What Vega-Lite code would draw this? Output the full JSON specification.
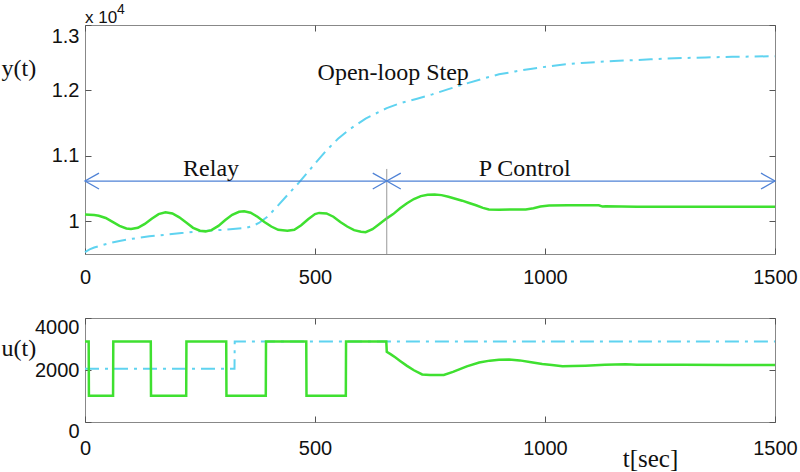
{
  "$schema": "https://vega.github.io/schema/vega-lite/v6.json",
  "padding": {"left": 0, "top": 2, "right": 0, "bottom": 0},
  "background": "white",
  "config": {
    "view": {"stroke": "#888888", "strokeWidth": 1},
    "axis": {
      "domain": false,
      "grid": false,
      "tickColor": "#555555",
      "tickSize": -6,
      "tickWidth": 1,
      "format": "d",
      "labelFont": "Liberation Sans",
      "labelFontSize": 20,
      "labelColor": "#111111",
      "labelOverlap": false,
      "labelFlush": false,
      "titleFont": "Liberation Serif",
      "titleFontSize": 24,
      "titleFontWeight": "normal",
      "titleColor": "#111111"
    }
  },
  "datasets": {
    "yOpen": [
      {"t": 0, "v": 9530}, {"t": 10, "v": 9570}, {"t": 20, "v": 9600}, {"t": 30, "v": 9620},
      {"t": 50, "v": 9660}, {"t": 75, "v": 9700}, {"t": 103, "v": 9733}, {"t": 140, "v": 9770},
      {"t": 175, "v": 9795}, {"t": 210, "v": 9820}, {"t": 248, "v": 9846}, {"t": 300, "v": 9870},
      {"t": 349, "v": 9897}, {"t": 365, "v": 9930}, {"t": 378, "v": 9974}, {"t": 395, "v": 10060},
      {"t": 415, "v": 10205}, {"t": 440, "v": 10400}, {"t": 465, "v": 10590}, {"t": 495, "v": 10840},
      {"t": 523, "v": 11070}, {"t": 550, "v": 11260}, {"t": 574, "v": 11400}, {"t": 610, "v": 11570},
      {"t": 656, "v": 11730}, {"t": 683, "v": 11800}, {"t": 720, "v": 11870}, {"t": 755, "v": 11940},
      {"t": 790, "v": 12020}, {"t": 828, "v": 12103}, {"t": 865, "v": 12180}, {"t": 900, "v": 12246},
      {"t": 935, "v": 12290}, {"t": 972, "v": 12333}, {"t": 1010, "v": 12370}, {"t": 1045, "v": 12400},
      {"t": 1080, "v": 12420}, {"t": 1117, "v": 12436}, {"t": 1150, "v": 12450}, {"t": 1190, "v": 12462},
      {"t": 1230, "v": 12475}, {"t": 1262, "v": 12487}, {"t": 1300, "v": 12495}, {"t": 1350, "v": 12505},
      {"t": 1407, "v": 12513}, {"t": 1450, "v": 12518}, {"t": 1500, "v": 12523}
    ],
    "yClosed": [
      {"t": 0, "v": 10105}, {"t": 10, "v": 10100}, {"t": 20, "v": 10095}, {"t": 30, "v": 10085},
      {"t": 45, "v": 10050}, {"t": 60, "v": 9990}, {"t": 75, "v": 9930}, {"t": 90, "v": 9890},
      {"t": 100, "v": 9882}, {"t": 115, "v": 9900}, {"t": 130, "v": 9960}, {"t": 145, "v": 10040},
      {"t": 160, "v": 10110}, {"t": 175, "v": 10138}, {"t": 190, "v": 10120}, {"t": 205, "v": 10060},
      {"t": 220, "v": 9980}, {"t": 235, "v": 9900}, {"t": 250, "v": 9855}, {"t": 262, "v": 9846},
      {"t": 275, "v": 9865}, {"t": 290, "v": 9930}, {"t": 305, "v": 10020}, {"t": 320, "v": 10100},
      {"t": 335, "v": 10145}, {"t": 346, "v": 10154}, {"t": 360, "v": 10130}, {"t": 375, "v": 10070},
      {"t": 390, "v": 9990}, {"t": 405, "v": 9920}, {"t": 420, "v": 9870}, {"t": 440, "v": 9857},
      {"t": 455, "v": 9870}, {"t": 470, "v": 9940}, {"t": 485, "v": 10030}, {"t": 500, "v": 10110},
      {"t": 509, "v": 10128}, {"t": 525, "v": 10120}, {"t": 540, "v": 10070}, {"t": 555, "v": 9990},
      {"t": 570, "v": 9920}, {"t": 585, "v": 9865}, {"t": 600, "v": 9840}, {"t": 610, "v": 9833},
      {"t": 625, "v": 9880}, {"t": 640, "v": 9960}, {"t": 656, "v": 10045}, {"t": 670, "v": 10110},
      {"t": 685, "v": 10200}, {"t": 700, "v": 10275}, {"t": 715, "v": 10340}, {"t": 730, "v": 10385},
      {"t": 745, "v": 10405}, {"t": 760, "v": 10410}, {"t": 775, "v": 10400}, {"t": 790, "v": 10375},
      {"t": 805, "v": 10345}, {"t": 820, "v": 10315}, {"t": 835, "v": 10280}, {"t": 850, "v": 10245},
      {"t": 865, "v": 10205}, {"t": 878, "v": 10180}, {"t": 900, "v": 10178}, {"t": 930, "v": 10180},
      {"t": 958, "v": 10182}, {"t": 975, "v": 10200}, {"t": 990, "v": 10225}, {"t": 1009, "v": 10240},
      {"t": 1050, "v": 10245}, {"t": 1100, "v": 10245}, {"t": 1117, "v": 10245}, {"t": 1125, "v": 10225},
      {"t": 1132, "v": 10230}, {"t": 1200, "v": 10222}, {"t": 1300, "v": 10222}, {"t": 1400, "v": 10222},
      {"t": 1500, "v": 10222}
    ],
    "uOpen": [
      {"t": 0, "v": 2050}, {"t": 325, "v": 2050}, {"t": 325.5, "v": 3100}, {"t": 1500, "v": 3100}
    ],
    "uClosed": [
      {"t": 0, "v": 3100}, {"t": 8, "v": 3100}, {"t": 8.5, "v": 1010}, {"t": 61, "v": 1010},
      {"t": 61.5, "v": 3100}, {"t": 143, "v": 3100}, {"t": 143.5, "v": 1010}, {"t": 220, "v": 1010},
      {"t": 220.5, "v": 3100}, {"t": 307, "v": 3100}, {"t": 307.5, "v": 1010}, {"t": 393, "v": 1010},
      {"t": 393.5, "v": 3100}, {"t": 481, "v": 3100}, {"t": 481.5, "v": 1010}, {"t": 567, "v": 1010},
      {"t": 567.5, "v": 3100}, {"t": 655, "v": 3100}, {"t": 656, "v": 2700}, {"t": 665, "v": 2600},
      {"t": 675, "v": 2480}, {"t": 685, "v": 2350}, {"t": 700, "v": 2160}, {"t": 715, "v": 1990},
      {"t": 733, "v": 1830}, {"t": 750, "v": 1808}, {"t": 780, "v": 1808}, {"t": 800, "v": 1930},
      {"t": 830, "v": 2140}, {"t": 857, "v": 2290}, {"t": 880, "v": 2360}, {"t": 900, "v": 2390},
      {"t": 922, "v": 2400}, {"t": 945, "v": 2370}, {"t": 970, "v": 2300}, {"t": 994, "v": 2230},
      {"t": 1015, "v": 2190}, {"t": 1038, "v": 2140}, {"t": 1060, "v": 2150}, {"t": 1088, "v": 2167},
      {"t": 1130, "v": 2200}, {"t": 1175, "v": 2225}, {"t": 1200, "v": 2205}, {"t": 1300, "v": 2200},
      {"t": 1400, "v": 2195}, {"t": 1500, "v": 2192}
    ],
    "arrows": [
      {"t": 0, "t2": 656, "v": 10615},
      {"t": 656, "t2": 1500, "v": 10615}
    ],
    "leftHeads": [{"t": 0, "v": 10615}, {"t": 656, "v": 10615}],
    "rightHeads": [{"t": 656, "v": 10615}, {"t": 1500, "v": 10615}],
    "divider": [{"t": 656, "v": 10800, "v2": 9500}],
    "notes": [
      {"t": 274, "v": 10692, "label": "Relay"},
      {"t": 956, "v": 10692, "label": "P Control"},
      {"t": 670, "v": 12154, "label": "Open-loop Step"}
    ],
    "scaleNote": [{"t": 0, "v": 13000, "label": "x 10"}],
    "scaleExp": [{"t": 0, "v": 13000, "label": "4"}]
  },
  "vconcat": [
    {
      "width": 690,
      "height": 229,
      "layer": [
        {
          "data": {"name": "yOpen"},
          "mark": {"type": "line", "color": "#5fd3f0", "strokeWidth": 2, "strokeDash": [14, 6, 3, 6]},
          "encoding": {
            "x": {"field": "t", "type": "quantitative",
                  "scale": {"domain": [0, 1500], "nice": false, "zero": false},
                  "axis": {"orient": "bottom", "values": [0, 500, 1000, 1500], "labelPadding": 19, "labelBaseline": "top", "title": null}},
            "y": {"field": "v", "type": "quantitative",
                  "scale": {"domain": [9500, 13000], "nice": false, "zero": false},
                  "axis": {"orient": "left", "values": [10000, 11000, 12000, 13000],
                           "labelExpr": "format(datum.value / 10000, '~g')",
                           "labelPadding": 12,
                           "labelOffset": {"condition": {"test": "datum.value == 13000", "value": 11}, "value": 0},
                           "title": "y(t)", "titleAngle": 0, "titleAlign": "left", "titleBaseline": "alphabetic",
                           "titleX": -84, "titleY": 50}}
          }
        },
        {
          "data": {"name": "yClosed"},
          "mark": {"type": "line", "color": "#3fe030", "strokeWidth": 2.5},
          "encoding": {
            "x": {"field": "t", "type": "quantitative",
                  "axis": {"orient": "top", "values": [0, 500, 1000, 1500], "labels": false, "title": null}},
            "y": {"field": "v", "type": "quantitative",
                  "axis": {"orient": "right", "values": [10000, 11000, 12000, 13000], "labels": false, "title": null}}
          }
        },
        {
          "data": {"name": "divider"},
          "mark": {"type": "rule", "color": "#999999", "strokeWidth": 1},
          "encoding": {
            "x": {"field": "t", "type": "quantitative", "axis": null},
            "y": {"field": "v", "type": "quantitative", "axis": null},
            "y2": {"field": "v2"}
          }
        },
        {
          "data": {"name": "arrows"},
          "mark": {"type": "rule", "color": "#4f82d6", "strokeWidth": 1.3},
          "encoding": {
            "x": {"field": "t", "type": "quantitative", "axis": null},
            "x2": {"field": "t2"},
            "y": {"field": "v", "type": "quantitative", "axis": null}
          }
        },
        {
          "data": {"name": "leftHeads"},
          "mark": {"type": "point", "shape": "M 1 -0.57 L 0 0 L 1 0.57", "filled": false, "size": 784, "color": "#4f82d6", "strokeWidth": 1.3, "opacity": 1},
          "encoding": {
            "x": {"field": "t", "type": "quantitative", "axis": null},
            "y": {"field": "v", "type": "quantitative", "axis": null}
          }
        },
        {
          "data": {"name": "rightHeads"},
          "mark": {"type": "point", "shape": "M -1 -0.57 L 0 0 L -1 0.57", "filled": false, "size": 784, "color": "#4f82d6", "strokeWidth": 1.3, "opacity": 1},
          "encoding": {
            "x": {"field": "t", "type": "quantitative", "axis": null},
            "y": {"field": "v", "type": "quantitative", "axis": null}
          }
        },
        {
          "data": {"name": "notes"},
          "mark": {"type": "text", "font": "Liberation Serif", "fontSize": 24, "color": "#111111", "align": "center", "baseline": "alphabetic"},
          "encoding": {
            "x": {"field": "t", "type": "quantitative", "axis": null},
            "y": {"field": "v", "type": "quantitative", "axis": null},
            "text": {"field": "label"}
          }
        },
        {
          "data": {"name": "scaleNote"},
          "mark": {"type": "text", "font": "Liberation Sans", "fontSize": 17, "color": "#111111", "align": "left", "baseline": "alphabetic", "dy": -2},
          "encoding": {
            "x": {"field": "t", "type": "quantitative", "axis": null},
            "y": {"field": "v", "type": "quantitative", "axis": null},
            "text": {"field": "label"}
          }
        },
        {
          "data": {"name": "scaleExp"},
          "mark": {"type": "text", "font": "Liberation Sans", "fontSize": 14, "color": "#111111", "align": "left", "baseline": "alphabetic", "dx": 32, "dy": -11},
          "encoding": {
            "x": {"field": "t", "type": "quantitative", "axis": null},
            "y": {"field": "v", "type": "quantitative", "axis": null},
            "text": {"field": "label"}
          }
        }
      ]
    },
    {
      "width": 690,
      "height": 104,
      "layer": [
        {
          "data": {"name": "uOpen"},
          "mark": {"type": "line", "color": "#5fd3f0", "strokeWidth": 2, "strokeDash": [14, 6, 3, 6]},
          "encoding": {
            "x": {"field": "t", "type": "quantitative",
                  "scale": {"domain": [0, 1500], "nice": false, "zero": false},
                  "axis": {"orient": "bottom", "values": [0, 500, 1000, 1500], "labelPadding": 22, "labelBaseline": "top",
                           "title": "t[sec]", "titleAlign": "center", "titleBaseline": "alphabetic", "titleX": 565, "titleY": 44,
                           "titleFontSize": 25}},
            "y": {"field": "v", "type": "quantitative",
                  "scale": {"domain": [0, 4000], "nice": false, "zero": false},
                  "axis": {"orient": "left", "values": [0, 2000, 4000],
                           "labelPadding": 12,
                           "labelOffset": {"condition": {"test": "datum.value != 2000", "value": 9}, "value": 0},
                           "title": "u(t)", "titleAngle": 0, "titleAlign": "left", "titleBaseline": "alphabetic",
                           "titleX": -84, "titleY": 37}}
          }
        },
        {
          "data": {"name": "uClosed"},
          "mark": {"type": "line", "color": "#3fe030", "strokeWidth": 2.5},
          "encoding": {
            "x": {"field": "t", "type": "quantitative",
                  "axis": {"orient": "top", "values": [0, 500, 1000, 1500], "labels": false, "title": null}},
            "y": {"field": "v", "type": "quantitative",
                  "axis": {"orient": "right", "values": [0, 2000, 4000], "labels": false, "title": null}}
          }
        }
      ]
    }
  ],
  "bounds": "flush",
  "spacing": 64
}
